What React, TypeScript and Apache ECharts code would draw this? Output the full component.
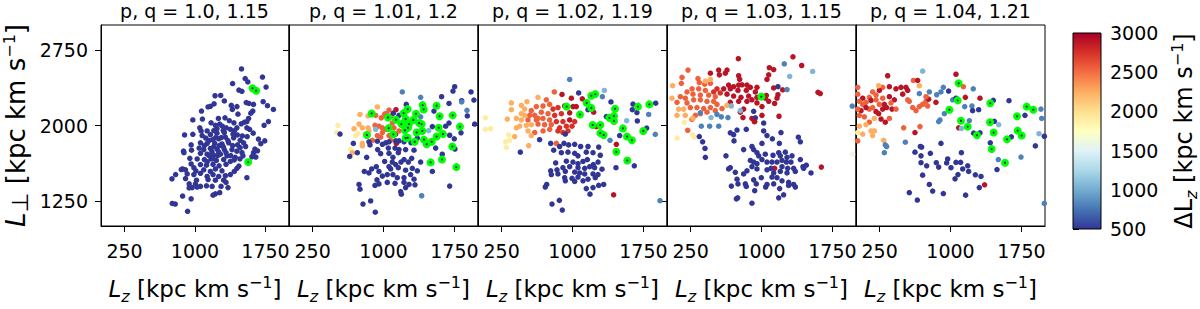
import React, { useEffect, useRef } from 'react';
import * as echarts from 'echarts';

// ΔLz colour levels
const B = 500, M = 800, L = 1050, Y = 1900, O = 2250, R = 2550, R2 = 2750, D = 2900;

const titles = ['p, q = 1.0, 1.15', 'p, q = 1.01, 1.2', 'p, q = 1.02, 1.19', 'p, q = 1.03, 1.15', 'p, q = 1.04, 1.21'];
const xTicks = [250, 1000, 1750];
const yTicks = [1250, 2000, 2750];
const cmap = ['#313695', '#4575b4', '#74add1', '#abd9e9', '#e0f3f8', '#ffffbf', '#fee090', '#fdae61', '#f46d43', '#d73027', '#a50026'];

// Panel 1: all points have ΔLz at the low end of the scale
const p1Delta = B;
const p1Points = [[1495,2563],[1718,2482],[1534,2467],[1400,2417],[1562,2433],[1756,2383],[1467,2352],[1499,2340],[1213,2296],[1273,2299],[1312,2244],[1386,2200],[1446,2188],[1397,2160],[1545,2228],[1573,2219],[1622,2210],[1725,2237],[1771,2197],[1834,2160],[1615,2144],[1594,2123],[1139,2185],[1164,2191],[1203,2216],[1069,2144],[1457,2113],[1570,2070],[1552,2039],[977,2055],[1079,2064],[1171,2027],[1249,2070],[1319,2076],[1365,2048],[1414,2027],[1492,2017],[1527,2033],[1781,2039],[1735,2002],[1263,2014],[1291,1993],[1217,2002],[1051,1977],[1065,1946],[1129,1946],[1234,1968],[1333,1977],[1376,1962],[1446,1977],[1552,1977],[1580,1962],[1619,1924],[889,1906],[977,1912],[1076,1900],[1164,1909],[1234,1924],[1312,1930],[1404,1915],[1450,1906],[1503,1896],[1555,1890],[1675,1865],[1742,1847],[1700,1819],[1115,1875],[1189,1859],[1252,1868],[1323,1884],[1411,1878],[1481,1853],[1517,1828],[959,1807],[1058,1828],[1129,1822],[1210,1822],[1287,1816],[1358,1828],[1453,1807],[1538,1791],[878,1745],[963,1754],[1044,1776],[1093,1760],[1164,1772],[1234,1766],[1312,1760],[1393,1760],[1446,1745],[1637,1766],[1665,1748],[1622,1729],[882,1729],[1058,1723],[1129,1714],[1199,1704],[1270,1714],[1340,1698],[1428,1683],[1478,1667],[1647,1686],[1605,1689],[945,1673],[1023,1667],[1100,1661],[1171,1667],[1227,1652],[1305,1661],[1376,1642],[1418,1658],[1510,1698],[868,1568],[959,1617],[988,1580],[1058,1611],[1122,1605],[1192,1614],[1256,1599],[1330,1614],[1446,1574],[1467,1596],[854,1562],[899,1559],[1009,1549],[1093,1559],[1164,1543],[1217,1568],[1287,1549],[1376,1512],[1418,1543],[794,1512],[917,1518],[988,1512],[1058,1524],[1129,1493],[1192,1512],[1252,1493],[1323,1500],[755,1469],[899,1472],[1016,1456],[1139,1462],[1217,1456],[1305,1456],[1552,1481],[938,1419],[1005,1419],[1058,1394],[1122,1400],[1182,1394],[1277,1394],[1330,1434],[1351,1382],[938,1379],[970,1382],[1023,1388],[1217,1320],[1192,1307],[1263,1332],[868,1298],[959,1270],[758,1224],[790,1218],[921,1146],[1612,2371],[1651,2346],[1566,1636],[1150,1850],[1200,1790],[1260,1800],[1100,1800],[1180,1740],[1240,1700],[1300,1790],[1350,1850],[1400,1800],[1280,1880],[1220,1880],[1150,1700],[1330,1730],[1380,1700],[1130,1640],[1190,1670],[1250,1740],[1200,1950],[1300,1950],[1420,1950],[1480,1780],[1500,1730]];
const p1Green = [[1612,2371],[1651,2346],[1566,1636]];

const p2Points = [[1753,2386,B],[1735,2343,B],[1926,2334,B],[1199,2334,M],[1393,2281,M],[1615,2287,B],[1827,2247,B],[1957,2253,B],[1241,2210,B],[1693,2219,B],[1883,2151,M],[1827,2234,M],[1887,2095,B],[1965,2014,B],[1820,1927,B],[1700,1903,B],[1749,1868,B],[1534,2144,B],[1517,1989,B],[1478,1949,L],[1693,2024,B],[1658,1993,B],[1552,1776,B],[1756,1766,B],[1393,2086,M],[1358,1875,B],[1622,1714,B],[1393,1636,B],[1517,1543,B],[1700,1397,B],[1404,1301,M],
[935,2185,O],[751,2110,O],[836,2095,O],[917,2101,R],[1030,2117,R],[1132,2157,D],[1058,2154,R],[1012,2113,R],[977,2076,R],[1079,2095,R],[1104,2123,B],[1164,2101,B],[518,2002,Y],[504,1930,Y],[540,1915,B],[688,1968,O],[741,2014,O],[705,1900,Y],[730,1921,Y],[776,1977,O],[836,1977,O],[846,1946,O],[811,1915,O],[910,2002,R],[952,1993,R],[988,1977,R],[917,1962,L],[935,1900,R],[988,1930,R],[1023,1962,R],[1058,1900,R],[1076,1853,R],[776,1822,O],[776,1797,O],[652,1766,Y],[670,1729,O],[970,1884,R],[882,1853,R],[1093,2024,R],[1111,1977,R],[1129,1915,D],[1164,1946,R],[1136,1822,D],
[681,1822,B],[723,1729,B],[642,1692,B],[846,1838,B],[857,1807,B],[935,1844,B],[988,1813,B],[1023,1828,B],[1058,1838,B],[1129,1847,B],[1164,1847,B],[1217,1838,B],[1291,1828,B],[1323,1754,B],[938,1760,B],[970,1720,B],[1051,1776,B],[1122,1776,B],[1164,1760,B],[1234,1760,B],[1157,1729,B],[1058,1723,B],[1100,1683,B],[822,1683,B],[1012,1642,B],[1093,1636,B],[1129,1611,B],[1185,1636,B],[1217,1661,B],[1263,1636,B],[1298,1673,B],[1058,1590,B],[1076,1568,B],[1157,1580,B],[1234,1555,B],[1305,1574,B],[1358,1549,B],[924,1590,B],[875,1568,B],[797,1543,B],[846,1528,B],[952,1543,B],[988,1497,B],[1040,1512,B],[1100,1512,B],[1146,1481,B],[1217,1481,B],[1287,1512,B],[1323,1466,B],[931,1459,B],[1040,1434,B],[1122,1425,B],[1217,1434,B],[1270,1413,B],[1234,1382,B],[1333,1410,B],[910,1404,B],[952,1419,B],[741,1413,B],[751,1366,B],[1182,1342,B],[1189,1317,B],[783,1218,B],[864,1249,B],[913,1137,B]];
const p2Green = [[1414,2203],[1425,2160],[1562,2197],[1256,2163],[1213,2123],[1344,2117],[1048,2079],[875,2120],[1132,2058],[1234,2064],[1316,2055],[1376,2024],[1404,2014],[1189,2014],[1270,2014],[1259,1977],[1227,1952],[1351,1930],[1411,1946],[1055,1974],[1104,1912],[825,1906],[1594,2092],[1732,2101],[1809,1989],[1584,1977],[1629,1915],[1562,1890],[1234,1875],[1256,1878],[1330,1838],[1428,1859],[1457,1813],[1510,1838],[1728,1791],[1619,1661],[1499,1633],[1771,1586]];

const p3Points = [[970,2458,M],[1337,2349,L],[808,2334,R],[889,2309,D],[1065,2324,B],[1316,2287,M],[1407,2234,B],[1640,2213,B],[1880,2222,B],[1633,2157,B],[1682,2129,B],[1806,2110,M],
[1358,2089,B],[1164,2157,B],[1573,2048,L],[1686,2045,B],[1499,1900,B],[1785,1974,B],[1876,1912,M],[1397,1853,M],[1654,1599,B],[1460,1580,B],[1926,1252,M],[448,1735,B],[652,1859,B],
[1104,2265,D],[1224,2132,D],[1252,1988,D],[1464,1813,D],[1435,1310,D],[988,2272,D],[1005,2188,D],[917,2194,D],[970,2126,D],[1040,2188,D],[970,2055,D],
[353,2225,O],[518,2237,O],[635,2281,O],[723,2256,R],[459,2200,O],[353,2157,O],[494,2163,O],[564,2148,R],[617,2188,R],[688,2194,R],[758,2210,R],[794,2163,R2],[846,2179,R2],[882,2117,R2],[811,2101,R2],[741,2117,R],[670,2132,R],[600,2101,R],[547,2101,R],[494,2101,O],[459,2117,O],[310,2064,O],[406,2070,O],[459,2055,O],[529,2055,R],[617,2055,R],[688,2070,R],[758,2055,R],[829,2039,R2],[899,2039,R2],[935,1993,R2],[864,1977,R2],[776,2008,R],[705,2008,R],[635,2014,R],[564,2008,O],[511,2002,O],[441,1993,O],[406,1977,O],[529,1946,O],[600,1930,R],[688,1946,R],[758,1962,R],[846,1946,R2],[899,1930,R2],[952,1946,R2],[995,1993,R2],[1023,2039,R2],[564,1900,O],[324,1906,Y],[293,1838,Y],[335,1853,Y],[300,1782,Y],[388,1890,O],[536,1800,O],[829,1822,R],[924,1915,B],[78,2076,Y],[78,1962,Y],[134,1968,Y],[635,2070,R],
[769,1822,B],[801,1754,B],[864,1791,B],[910,1822,B],[959,1807,B],[1023,1813,B],[1086,1791,B],[1164,1791,B],[882,1729,B],[952,1735,B],[1023,1723,B],[1058,1698,B],[1146,1735,B],[1217,1729,B],[1277,1785,B],[1294,1704,B],[822,1627,B],[935,1645,B],[1005,1636,B],[1058,1620,B],[1111,1642,B],[1157,1661,B],[1220,1611,B],[1270,1636,B],[899,1580,B],[970,1590,B],[1058,1580,B],[1129,1574,B],[1182,1590,B],[1234,1580,B],[1312,1565,B],[769,1549,B],[836,1559,B],[776,1512,B],[846,1518,B],[924,1543,B],[1023,1537,B],[1076,1528,B],[1129,1518,B],[1217,1518,B],[1270,1512,B],[917,1481,B],[995,1475,B],[1058,1487,B],[1111,1450,B],[1164,1466,B],[1241,1481,B],[924,1450,B],[1023,1444,B],[1217,1382,B],[1277,1404,B],[1330,1413,B],[1146,1372,B],[727,1413,B],[712,1388,B],[1185,1317,B],[861,1255,B],[783,1218,B],[892,1159,B]];
const p3Green = [[1199,2296],[1241,2312],[1693,2188],[1813,2210],[938,2188],[1079,2110],[1150,2225],[1199,2175],[1450,2166],[1390,2076],[1439,2095],[1439,2045],[1213,2005],[1294,2005],[1534,1971],[1749,1946],[1294,1924],[1330,1906],[1577,1890],[1629,1853],[1464,1738],[1580,1652]];

const p4Points = [[755,2665,D],[1333,2684,D],[1425,2597,D],[1083,2575,D],[1129,2557,D],[547,2551,D],[635,2551,D],[459,2520,D],[554,2504,D],[617,2520,D],[758,2495,D],[769,2458,D],[1076,2504,D],[1058,2458,D],[1129,2374,D],[1224,2355,D],[1174,2306,D],[1164,2272,D],[1139,2219,D],[1598,2330,D],[1622,2318,D],[1185,2092,D],[1633,1586,D],[1139,1574,D],
[1241,2613,M],[1298,2488,L],[1541,2538,L],[1270,2358,M],[1174,2386,B],
[652,2402,D],[705,2386,D],[758,2402,D],[794,2405,D],[846,2402,D],[882,2380,D],[952,2380,D],[529,2365,R2],[600,2365,D],[670,2365,D],[751,2349,D],[839,2349,D],[935,2334,D],[494,2334,R2],[564,2324,R2],[635,2312,D],[705,2293,D],[783,2281,D],[864,2293,D],[899,2256,D],[952,2281,D],[1051,2299,D],[1040,2272,D],[1076,2241,D],[670,2231,D],[758,2241,D],[846,2241,D],[952,2225,D],[1005,2188,D],[811,2163,D],[776,2132,D],[804,2079,D],[1005,2101,D],[899,2070,D],[924,2039,D],
[222,2551,R],[159,2479,R],[152,2420,R],[328,2467,R],[342,2427,R],[399,2411,R],[459,2420,R],[265,2365,R],[335,2365,R],[406,2349,R],[212,2334,R],[275,2312,R],[353,2303,R],[441,2303,R],[511,2287,R],[141,2287,R],[106,2231,R],[194,2272,R],[212,2225,R],[282,2256,R],[353,2256,R],[423,2241,R],[494,2241,R],[529,2210,R],[247,2179,R],[317,2179,R],[388,2169,R],[459,2179,R],[582,2169,R],[353,2117,R],[423,2132,R],[511,2148,R],[300,2101,R],[265,2061,R],[219,1952,R],
[60,2396,O],[53,2272,O],[123,2163,O],[194,2101,O],[106,2101,O],[275,2070,O],[176,2163,O],[635,2200,O],[406,2442,O],[459,2458,O],
[106,1875,Y],[272,1906,Y],[289,1884,Y],[183,2030,Y],
[353,2126,M],[466,2079,L],[363,1993,M],[451,1993,M],[529,2110,M],[575,2086,M],[645,2079,M],[547,1993,M],[681,2194,L],[776,2148,L],[917,2141,B],[935,2076,B],[1023,2024,B],[928,2039,D],
[1960,2193,M],[1963,1715,1600],
[670,1927,B],[705,1909,B],[741,1955,B],[839,1962,B],[709,1847,B],[342,1890,B],[377,1838,B],[402,1772,B],[406,1683,B],[624,1698,B],[1023,1946,B],[1058,1900,B],[1115,1868,B],[1189,1822,B],[1206,1930,B],[1390,1884,B],[1411,1838,B],[811,1760,B],[917,1760,B],[899,1791,B],[1005,1822,B],[952,1729,B],[970,1698,B],[1040,1714,B],[1122,1704,B],[1182,1729,B],[1252,1735,B],[1199,1698,B],[1270,1683,B],[1323,1698,B],[1411,1661,B],[1439,1590,B],[1474,1605,B],[1446,1574,B],[1524,1528,B],[882,1652,B],[917,1636,B],[952,1620,B],[1005,1661,B],[1058,1636,B],[1111,1636,B],[1164,1636,B],[1217,1652,B],[1263,1636,B],[1312,1636,B],[899,1590,B],[952,1568,B],[846,1549,B],[1058,1559,B],[1100,1574,B],[1217,1590,B],[1277,1574,B],[1340,1574,B],[670,1580,B],[652,1568,B],[723,1534,B],[811,1518,B],[1129,1528,B],[1199,1543,B],[1270,1528,B],[1358,1543,B],[998,1481,B],[1111,1487,B],[1164,1481,B],[1217,1450,B],[1287,1434,B],[1340,1413,B],[1358,1388,B],[741,1466,B],[751,1419,B],[681,1397,B],[829,1419,B],[839,1394,B],[917,1459,B],[945,1419,B],[1058,1413,B],[1044,1388,B],[1129,1419,B],[1287,1404,B],[1192,1372,B],[928,1351,B],[1234,1310,B],[1182,1280,B],[748,1280,B],[734,1270,B],[899,1227,B]];
const p4Green = [[998,2287]];

const p5Points = [[335,2495,D],[705,2541,L],[1058,2510,D],[1136,2386,R],[1241,2365,M],[1312,2272,D],[924,2380,M],[980,2343,B],[854,2306,M],[899,2334,M],[776,2334,M],[670,2318,M],[607,2448,R],[652,2448,D],[670,2396,O],[529,2380,D],[547,2349,D],[476,2380,D],[494,2312,D],[423,2365,D],[353,2386,D],[282,2380,R],[247,2349,D],[240,2396,O],[176,2334,R],[212,2303,R],[141,2281,R],[71,2272,D],[18,2380,R],[18,2312,R],[35,2241,R],[71,2210,R],[106,2231,R],[159,2250,D],[212,2256,R],[282,2272,R],[353,2287,D],[406,2256,D],[370,2225,R],[300,2210,D],[247,2210,R],[176,2179,R],[141,2163,R],[106,2179,D],[53,2148,D],[18,2163,R],[212,2138,D],[240,2117,D],[282,2163,D],[324,2179,D],[381,2163,D],[423,2163,R],[353,2070,R],[310,2033,D],[265,2064,D],[194,2070,O],[88,2086,R],[35,2101,R],[141,2033,R],[106,2008,O],[35,1993,O],[18,1930,Y],[71,1915,O],[176,1900,O],[194,1946,O],[159,1946,O],[18,1847,R],[293,1853,O],[564,2241,R],[600,2179,R],[635,2148,R],[670,2188,R],[705,2210,R],[741,2241,R],[769,2262,D],[846,2231,D],[741,2287,R],[758,2194,R],[547,2256,R],[504,1977,R],[677,1989,R],[624,1930,D],[310,1807,M],[324,1791,M],[300,1729,M],[522,1834,M],
[935,2117,M],[889,2055,M],[875,2039,M],[1023,2256,M],[1058,2272,B],[1157,2281,D],[1150,2188,M],[1227,2194,M],[1234,2148,B],[1298,2157,B],[1199,2048,M],[1086,1977,D],[1115,1971,L],[1245,1924,B],[1312,1927,B],[1453,2250,B],[1619,2247,B],[1464,2042,B],[1510,2008,L],[1421,1828,B],[1506,1661,M],[1492,1562,B],[899,1822,B],[1644,1887,B],[1788,2101,B],[1957,2163,M],[1965,2070,M],[1936,1918,L],[1993,1893,B],[1898,1797,B],[1746,1686,M],[1993,1224,M],
[624,1735,B],[681,1791,B],[695,1785,B],[688,1698,B],[787,1723,B],[688,1630,B],[748,1599,B],[850,1630,B],[875,1586,B],[959,1627,B],[970,1667,B],[1005,1580,B],[1058,1633,B],[1107,1633,B],[1115,1729,B],[1182,1599,B],[1129,1568,B],[1192,1543,B],[1263,1509,B],[1323,1493,B],[1079,1512,B],[1048,1469,B],[705,1506,B],[776,1413,B],[811,1348,B],[924,1323,B],[564,1332,B],[649,1258,B],[1160,1307,B],[1305,1382,B],[1361,1410,D]];
const p5Green = [[1086,2420],[988,2157],[1076,2250],[1111,2048],[1182,1989],[1280,1903],[1421,2222],[1418,2033],[1457,1930],[1435,1766],[1577,1630],[1704,2092],[1711,1949],[1753,1900],[1598,1862],[1806,2188],[1876,2157]];

const FONT = 'DejaVu Sans';

function richStyle(size: number, subSize: number) {
  return {
    n: { fontSize: size, fontFamily: FONT, color: '#000', lineHeight: 30 },
    it: { fontSize: size, fontFamily: FONT, color: '#000', fontStyle: 'italic', lineHeight: 30 },
    sub: { fontSize: 16, fontFamily: FONT, color: '#000', fontStyle: 'italic', verticalAlign: 'bottom', lineHeight: 18 },
    subn: { fontSize: subSize, fontFamily: FONT, color: '#000', verticalAlign: 'bottom', lineHeight: subSize + 2 },
    sup: { fontSize: 16, fontFamily: FONT, color: '#000', verticalAlign: 'top', lineHeight: 16 },
  };
}

const noComma = (v: number) => String(v);

export default function App() {
  const ref = useRef<HTMLDivElement>(null);
  useEffect(() => {
    if (!ref.current) return;
    const chart = echarts.init(ref.current, undefined, { renderer: 'svg' });
    const panels = [p1Points.map((p) => [p[0], p[1], p1Delta]), p2Points, p3Points, p4Points, p5Points];
    const greens = [p1Green, p2Green, p3Green, p4Green, p5Green];
    const left0 = 100, pw = 189, top0 = 25, ph = 215;

    const grid: any[] = [];
    const xAxis: any[] = [];
    const yAxis: any[] = [];
    const series: any[] = [];
    const title: any[] = [];
    const mainIdx: number[] = [];

    for (let i = 0; i < 5; i++) {
      grid.push({ left: left0 + pw * i, top: top0, width: pw, height: ph, show: true, borderColor: '#000', borderWidth: 1, backgroundColor: 'rgba(0,0,0,0)' });
      title.push({ text: titles[i], left: left0 + pw * i + pw / 2, top: 1, textAlign: 'center', padding: 0, textStyle: { fontSize: 19, fontWeight: 'normal', color: '#000', fontFamily: FONT } });
      xAxis.push({
        gridIndex: i, type: 'value', min: 0, max: 2000,
        axisLine: { show: true, onZero: false, lineStyle: { color: '#000', width: 1 } },
        splitLine: { show: false },
        axisTick: { show: true, length: 6, customValues: xTicks, lineStyle: { color: '#000', width: 1 } },
        axisLabel: { customValues: xTicks, formatter: noComma, fontSize: 19, color: '#000', fontFamily: FONT, margin: 15 },
        name: '{it|L}{sub|z}{n| [kpc km s}{sup|−1}{n|]}', nameLocation: 'middle', nameGap: 48,
        nameTextStyle: { fontSize: 23, fontFamily: FONT, color: '#000', rich: richStyle(23, 16) },
      });
      yAxis.push({
        gridIndex: i, type: 'value', min: 1000, max: 3000,
        axisLine: { show: true, onZero: false, lineStyle: { color: '#000', width: 1 } },
        splitLine: { show: false },
        axisTick: { show: true, length: 6, customValues: yTicks, lineStyle: { color: '#000', width: 1 } },
        axisLabel: { show: i === 0, customValues: yTicks, formatter: noComma, fontSize: 19, color: '#000', fontFamily: FONT, margin: 13 },
        name: i === 0 ? '{it|L}{subn|⊥}{n| [kpc km s}{sup|−1}{n|]}' : '',
        nameLocation: 'middle', nameRotate: 90, nameGap: 70,
        nameTextStyle: { fontSize: 26, fontFamily: FONT, color: '#000', rich: richStyle(26, 23) },
      });
      mainIdx.push(series.length);
      series.push({ type: 'scatter', xAxisIndex: i, yAxisIndex: i, data: panels[i], symbolSize: 5.5, silent: true, clip: true, itemStyle: { opacity: 1 } });
      series.push({ type: 'scatter', xAxisIndex: i, yAxisIndex: i, data: greens[i], symbolSize: 8, silent: true, clip: true, itemStyle: { color: '#00ff00', opacity: 1 } });
      series.push({ type: 'scatter', xAxisIndex: i, yAxisIndex: i, data: greens[i], symbolSize: 2.2, silent: true, clip: true, itemStyle: { color: '#1f2a78', opacity: 1 } });
    }

    // colour bar
    const cbLeft = 1073, cbTop = 33, cbW = 28, cbH = 196;
    grid.push({ left: cbLeft, top: cbTop, width: cbW, height: cbH, show: false });
    xAxis.push({ gridIndex: 5, type: 'value', min: 0, max: 1, show: false });
    yAxis.push({
      gridIndex: 5, type: 'value', position: 'right', min: 500, max: 3000, interval: 500,
      axisLine: { show: false }, splitLine: { show: false },
      axisTick: { show: true, length: 6, lineStyle: { color: '#000', width: 1 } },
      axisLabel: { formatter: noComma, fontSize: 19, color: '#000', fontFamily: FONT, margin: 13 },
      name: '{n|ΔL}{sub|z}{n| [kpc km s}{sup|−1}{n|]}', nameLocation: 'middle', nameRotate: 90, nameGap: 72,
      nameTextStyle: { fontSize: 24, fontFamily: FONT, color: '#000', rich: richStyle(24, 16) },
    });

    const stops = cmap.map((c, k) => ({ offset: k / (cmap.length - 1), color: c }));

    chart.setOption({
      animation: false,
      backgroundColor: '#fff',
      title,
      grid,
      xAxis,
      yAxis,
      visualMap: {
        type: 'continuous', show: false, min: 500, max: 3000, dimension: 2,
        seriesIndex: mainIdx, inRange: { color: cmap },
      },
      graphic: [
        {
          type: 'rect', z: 10,
          shape: { x: cbLeft, y: cbTop, width: cbW, height: cbH },
          style: { fill: new echarts.graphic.LinearGradient(0, 1, 0, 0, stops), stroke: '#000', lineWidth: 1 },
        },
      ],
      series,
    });
    return () => chart.dispose();
  }, []);
  return <div ref={ref} style={{ position: 'absolute', left: 0, top: 0, width: 1200, height: 309 }} />;
}
